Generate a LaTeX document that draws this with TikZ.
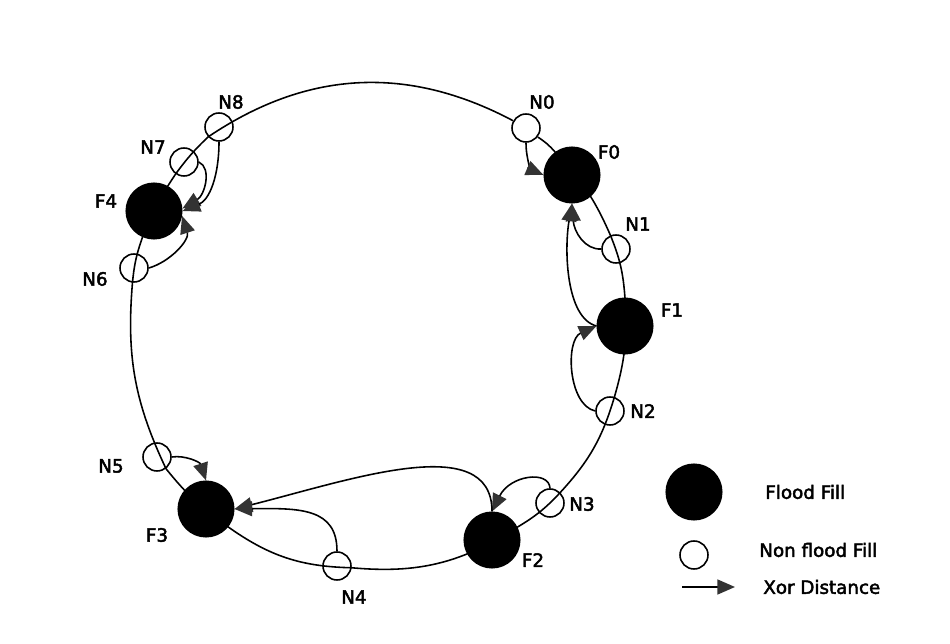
\documentclass[tikz,border=0pt]{standalone}
\usepackage{fontspec}
\setmainfont{DejaVu Sans}
\newfontfamily\diagfont[FakeBold=2.5]{DejaVu Sans}
\usetikzlibrary{arrows.meta}

\begin{document}
\begin{tikzpicture}[
  x=0.02cm, y=-0.02cm,
  flood/.style={circle, draw, fill=black, line width=0.9pt, minimum size=1.11cm, inner sep=0pt},
  plain/.style={circle, draw, fill=white, line width=0.9pt, minimum size=0.56cm, inner sep=0pt},
  ring/.style={line width=0.9pt},
  xor/.style={line width=0.9pt, -{Triangle[length=10pt, width=8.5pt, color=black!80]}},
  nlabel/.style={font=\diagfont\fontsize{10.4}{12}\selectfont, inner sep=0pt},
]
\useasboundingbox (0,0) rectangle (950,644);

% Knoten
\node[plain] (N0) at (526,128) {};
\node[flood] (F0) at (572,175) {};
\node[plain] (N1) at (616,249) {};
\node[flood] (F1) at (625,326) {};
\node[plain] (N2) at (610,411) {};
\node[plain] (N3) at (550,503) {};
\node[flood] (F2) at (492,540) {};
\node[plain] (N4) at (337,566) {};
\node[flood] (F3) at (206,509) {};
\node[plain] (N5) at (157,457) {};
\node[plain] (N6) at (134,268) {};
\node[flood] (F4) at (154,211) {};
\node[plain] (N7) at (184,162) {};
\node[plain] (N8) at (219,127) {};

% Ring
\draw[ring] (N0) to[bend left=8] (F0) to[bend left=10] (N1) to[bend left=9] (F1)
  to[bend left=10] (N2) to[bend left=13] (N3) to[bend left=8] (F2)
  to[bend left=19] (N4) to[bend left=17] (F3) to[bend left=8] (N5)
  to[bend left=15] (N6) to[bend left=7] (F4) to[bend left=6] (N7)
  to[bend left=5] (N8) to[bend left=31] (N0);

% Beschriftung
\node[nlabel] (lN0) at (542,102) {N0};
\node[nlabel] (lF0) at (609,152) {F0};
\node[nlabel] (lN1) at (638,224) {N1};
\node[nlabel] (lF1) at (672,310) {F1};
\node[nlabel] (lN2) at (643,411) {N2};
\node[nlabel] (lN3) at (582,504) {N3};
\node[nlabel] (lF2) at (533,560) {F2};
\node[nlabel] (lN4) at (354,597) {N4};
\node[nlabel] (lF3) at (157,535) {F3};
\node[nlabel] (lN5) at (111,466) {N5};
\node[nlabel] (lN6) at (95,279) {N6};
\node[nlabel] (lF4) at (106,201) {F4};
\node[nlabel] (lN7) at (153,147) {N7};
\node[nlabel] (lN8) at (231,102) {N8};

% Xor-Abstand
\draw[xor] (N0.south) .. controls (526,160) and (532,170) .. (F0.west);
\draw[xor] (N1.west) .. controls (585,250) and (574,232) .. (F0.south);
\draw[xor] (F1.west) .. controls (566,318) and (564,250) .. (F0.south);
\draw[xor] (N2.west) .. controls (568,405) and (565,340) .. (F1.west);
\draw[xor] (N3.north) .. controls (549,470) and (510,475) .. (F2.north);
\draw[xor] (F2.north) .. controls (492,430) and (350,480) .. (F3.east);
\draw[xor] (N4.north) .. controls (337,508) and (300,508) .. (F3.east);
\draw[xor] (N5.east) .. controls (185,455) and (200,462) .. (F3.north);
\draw[xor] (N6.east) .. controls (170,262) and (190,240) .. (F4.-10);
\draw[xor] (N7.east) .. controls (212,168) and (205,195) .. (F4.5);
\draw[xor] (N8.south) .. controls (219,175) and (210,200) .. (F4.east);

% Legende
\node[flood] (lgFlood) at (694,492) {};
\node[plain] (lgPlain) at (694,555) {};
\coordinate (lgA) at (682,587);
\coordinate (lgB) at (735,587);
\draw[xor] (lgA) -- (lgB);
\node[nlabel, anchor=west] (tFlood) at (765,492) {Flood Fill};
\node[nlabel, anchor=west] (tPlain) at (759,550) {Non flood Fill};
\node[nlabel, anchor=west] (tXor) at (763,587) {Xor Distance};

\end{tikzpicture}
\end{document}
